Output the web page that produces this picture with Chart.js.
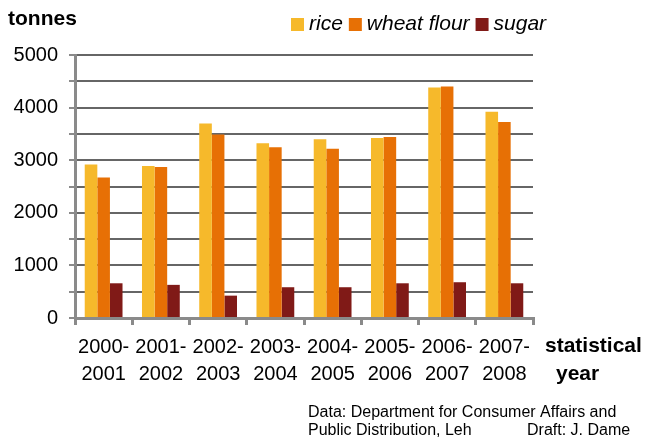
<!DOCTYPE html>
<html>
<head>
<meta charset="utf-8">
<script src="https://cdn.jsdelivr.net/npm/chart.js@4"></script>
<style>
  body { margin: 0; background: #fff; }
  #wrap { width: 646px; height: 440px; }
</style>
</head>
<body>
<div id="wrap"><canvas id="foodChart"></canvas></div>
<script>
  const years = [
    ['2000-', '2001'], ['2001-', '2002'], ['2002-', '2003'], ['2003-', '2004'],
    ['2004-', '2005'], ['2005-', '2006'], ['2006-', '2007'], ['2007-', '2008']
  ];
  const rice = [2920, 2890, 3700, 3320, 3400, 3420, 4380, 3920];
  const wheatFlour = [2670, 2870, 3490, 3245, 3220, 3440, 4400, 3725];
  const sugar = [660, 630, 425, 585, 585, 660, 680, 660];
  const seriesNames = ['rice', 'wheat flour', 'sugar'];
  const seriesColors = ['#F6B92B', '#E77005', '#801A17'];
  const yTicks = [0, 1000, 2000, 3000, 4000, 5000];

  const FONT = '"Liberation Sans", Arial, Helvetica, sans-serif';

  // title, legend, axis caption and source note
  const extras = {
    id: 'extras',
    afterDraw(chart) {
      const ctx = chart.ctx;
      ctx.save();
      ctx.fillStyle = '#000';
      ctx.textBaseline = 'alphabetic';
      ctx.textAlign = 'left';

      ctx.font = 'bold 21px ' + FONT;
      ctx.fillText('tonnes', 8, 25);
      ctx.fillText('statistical', 545, 352);
      ctx.fillText('year', 556, 380);

      // legend
      ctx.font = 'italic 21px ' + FONT;
      let x = 291;
      chart.data.datasets.forEach(ds => {
        ctx.fillStyle = ds.backgroundColor;
        ctx.fillRect(x, 18, 13, 13);
        x += 18;
        ctx.fillStyle = '#000';
        ctx.fillText(ds.label, x, 30);
        x += ctx.measureText(ds.label).width + 6;
      });

      ctx.font = '16px ' + FONT;
      ctx.fillText('Data: Department for Consumer Affairs and', 308, 417);
      ctx.fillText('Public Distribution, Leh', 308, 435);
      ctx.fillText('Draft: J. Dame', 527, 435);
      ctx.restore();
    }
  };

  const values = [rice, wheatFlour, sugar];

  new Chart(document.getElementById('foodChart'), {
    type: 'bar',
    data: {
      labels: years,
      datasets: values.map((v, i) => ({
        label: seriesNames[i],
        data: v,
        backgroundColor: seriesColors[i],
        categoryPercentage: 0.66,
        barPercentage: 1
      }))
    },
    options: {
      responsive: true,
      maintainAspectRatio: false,
      animation: false,
      layout: { padding: { top: 55, right: 113, left: 0, bottom: 52 } },
      plugins: {
        legend: { display: false },
        tooltip: { enabled: false }
      },
      scales: {
        x: {
          afterFit: s => { s.height = 70; },
          grid: {
            offset: true,
            drawOnChartArea: false,
            tickLength: 7,
            tickColor: '#8a8a8a',
            lineWidth: 3
          },
          border: { color: '#8a8a8a', width: 3 },
          ticks: {
            color: '#000',
            padding: 9,
            font: { family: FONT, size: 20, lineHeight: 1.35 }
          }
        },
        y: {
          min: 0,
          max: 5000,
          afterFit: s => { s.width = 75; },
          grid: {
            color: '#666',
            lineWidth: 2,
            tickLength: 6,
            tickColor: '#8a8a8a'
          },
          border: { color: '#8a8a8a', width: 3 },
          ticks: {
            stepSize: 500,
            autoSkip: false,
            color: '#000',
            padding: 11,
            font: { family: FONT, size: 20 },
            callback: v => yTicks.includes(v) ? v : ''
          }
        }
      }
    },
    plugins: [extras]
  });
</script>
</body>
</html>
